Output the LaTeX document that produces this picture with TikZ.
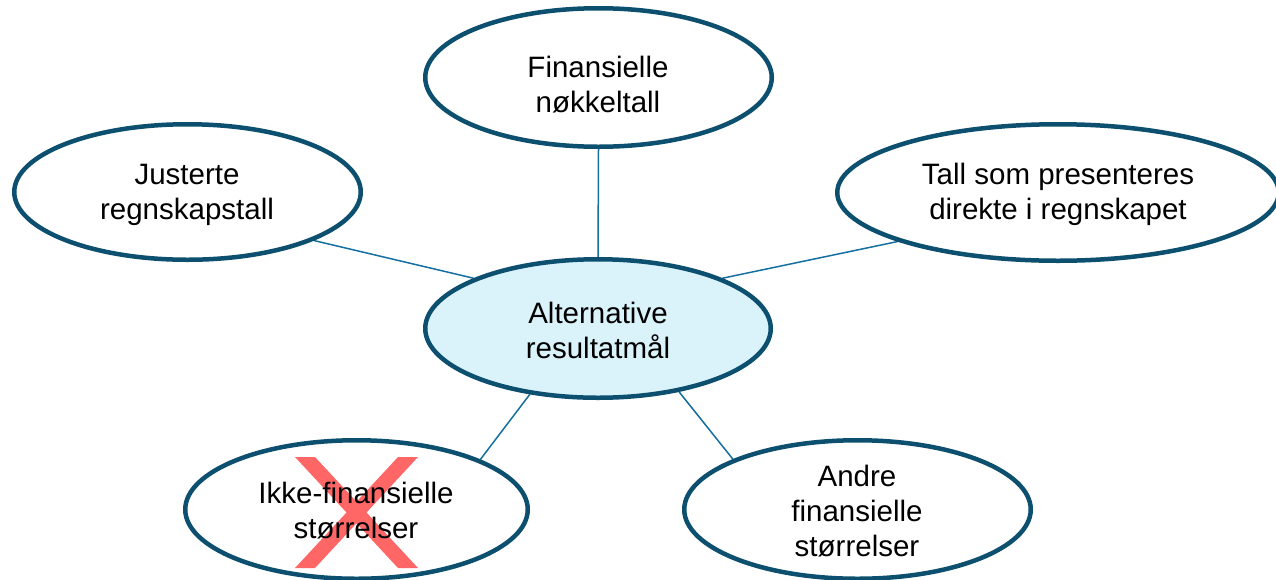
\documentclass[tikz,border=0pt]{standalone}
\usepackage{fontspec}
\setmainfont{Liberation Sans}
\usetikzlibrary{shapes.geometric}
\pgfdeclarelayer{background}
\pgfsetlayers{background,main}
\definecolor{bordc}{RGB}{12,79,110}
\definecolor{linec}{RGB}{20,112,160}
\definecolor{cfill}{RGB}{218,242,250}
\definecolor{crossc}{RGB}{255,102,102}
\tikzset{
  ell/.style={ellipse, draw=bordc, line width=4.5pt, fill=white, inner sep=0pt},
  conn/.style={draw=linec, line width=1.5pt},
  txt/.style={inner sep=0pt, align=center, font=\fontsize{29.5}{35}\selectfont},
  crossfill/.style={fill=crossc, draw=none}
}
\begin{document}
\begin{tikzpicture}[x=1pt,y=-1pt]
\useasboundingbox (0,0) rectangle (1276,579);
\begin{scope}
\clip (0,0) rectangle (1276,579);
\node[ell, fill=cfill, minimum width=345.5pt, minimum height=138.5pt] (c) at (598,328.5) {};
\node[ell, minimum width=346.5pt, minimum height=138.5pt] (t) at (598.5,77.5) {};
\node[ell, minimum width=346.5pt, minimum height=135.5pt] (l) at (187.5,192) {};
\node[ell, minimum width=441.5pt, minimum height=136.5pt] (r) at (1058,192.5) {};
\node[ell, minimum width=342.5pt, minimum height=138.5pt] (bl) at (356.5,509.5) {};
\node[ell, minimum width=346.5pt, minimum height=138.5pt] (br) at (857.5,509.5) {};
\fill[crossfill] (295,457) -- (315,457) -- (418,568) -- (398,568) -- cycle;
\fill[crossfill] (398,457) -- (418,457) -- (315,568) -- (295,568) -- cycle;
\node[txt] (ctext) at (598,330) {Alternative\\resultatmål};
\node[txt] (ttext) at (598,85) {Finansielle\\nøkkeltall};
\node[txt] (ltext) at (187,195) {Justerte\\regnskapstall};
\node[txt] (rtext) at (1058,194) {Tall som presenteres\\direkte i regnskapet};
\node[txt] (bltext) at (356,511) {Ikke-finansielle\\størrelser};
\node[txt] (brtext) at (857,511) {Andre\\finansielle\\størrelser};
\end{scope}
\begin{pgfonlayer}{background}
\draw[conn] (c.90) -- (t.-90);
\draw[conn] (c.158.1) -- (l.-21.9);
\draw[conn] (c.22) -- (r.197.9);
\draw[conn] (c.224.4) -- (bl.22.2);
\draw[conn] (c.-38.1) -- (br.158.3);
\end{pgfonlayer}
\end{tikzpicture}
\end{document}
